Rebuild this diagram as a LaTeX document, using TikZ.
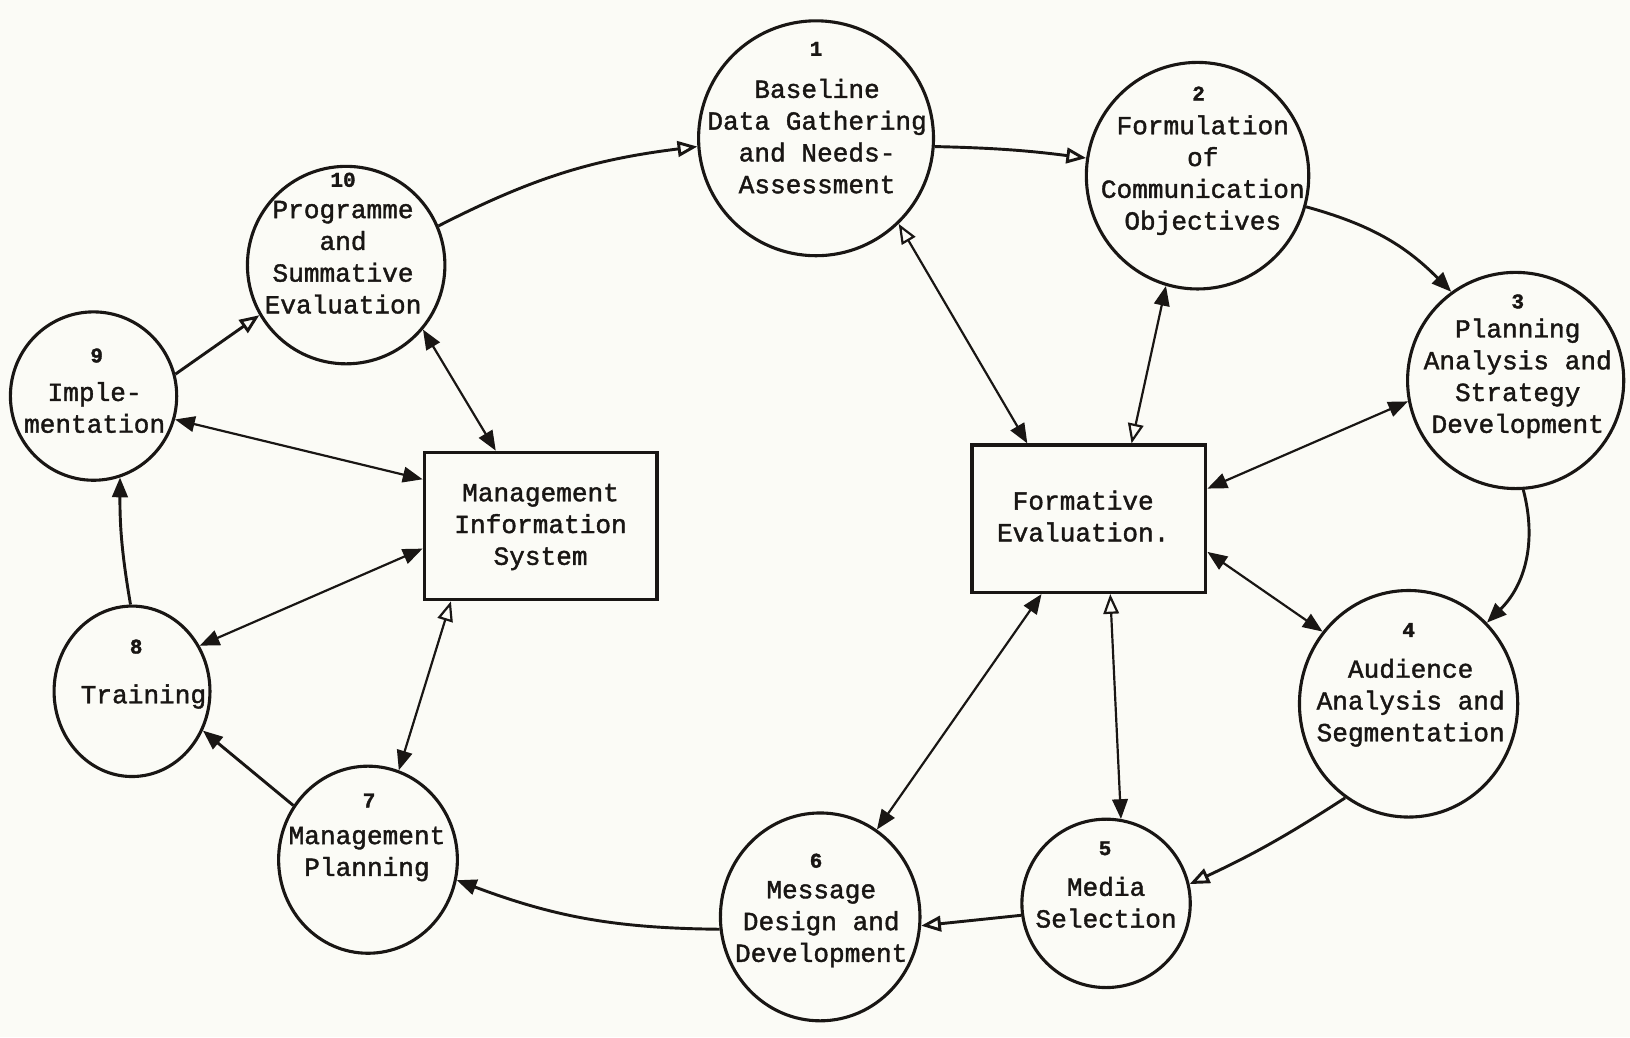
\documentclass[tikz,border=0pt]{standalone}
\usepackage{fontspec}
\setmainfont{Liberation Mono}[FakeBold=1.5]
\usetikzlibrary{shapes.geometric,arrows.meta,calc}
\definecolor{paper}{RGB}{251,251,246}
\definecolor{ink}{RGB}{25,22,20}
\begin{document}
\begin{tikzpicture}[x=0.02cm,y=-0.02cm,
  Fil/.tip={Triangle[length=0.38cm,width=0.30cm]},
  Opn/.tip={Triangle[open,length=0.38cm,width=0.30cm]},
  circ/.style={draw=ink, ellipse, line width=1.7pt, inner sep=0pt},
  box/.style={draw=ink, rectangle, line width=1.7pt, inner sep=0pt},
  txt/.style={align=center, inner sep=0pt, text=ink, font=\fontsize{14.3}{17.4}\selectfont},
  num/.style={inner sep=0pt, text=ink, font=\fontsize{11.5}{13}\selectfont\bfseries},
  flow/.style={draw=ink, line width=1.6pt},
  link/.style={draw=ink, line width=1.2pt}]
\fill[paper] (0,0) rectangle (1568,998);
\useasboundingbox (0,0) rectangle (1568,998);

% circles
\node[circ, minimum width=4.52cm, minimum height=4.52cm] (c1) at (785,133) {};
\node[circ, minimum width=4.28cm, minimum height=4.36cm] (c2) at (1152,169) {};
\node[circ, minimum width=4.16cm, minimum height=4.16cm] (c3) at (1458,366) {};
\node[circ, minimum width=4.20cm, minimum height=4.36cm] (c4) at (1355,677) {};
\node[circ, minimum width=3.24cm, minimum height=3.24cm] (c5) at (1064,869) {};
\node[circ, minimum width=3.84cm, minimum height=4.00cm] (c6) at (789,882) {};
\node[circ, minimum width=3.44cm, minimum height=3.60cm] (c7) at (354,827) {};
\node[circ, minimum width=3.00cm, minimum height=3.28cm] (c8) at (127,665) {};
\node[circ, minimum width=3.20cm, minimum height=3.24cm] (c9) at (90,381) {};
\node[circ, minimum width=3.80cm, minimum height=3.80cm] (c10) at (333,255) {};

% boxes
\node[box, minimum width=4.48cm, minimum height=2.84cm] (mis) at (520,506) {};
\node[box, minimum width=4.50cm, minimum height=2.84cm] (fe) at (1047.5,499) {};

% numbers
\node[num] (n1) at (785,47) {1};
\node[num] (n2) at (1153,90) {2};
\node[num] (n3) at (1460,290) {3};
\node[num] (n4) at (1355,606) {4};
\node[num] (n5) at (1063,816) {5};
\node[num] (n6) at (785,828) {6};
\node[num] (n7) at (355,770) {7};
\node[num] (n8) at (131,622) {8};
\node[num] (n9) at (93,342) {9};
\node[num] (n10) at (330,173) {10};

% texts
\node[txt] (t1) at (786,131) {Baseline\\Data Gathering\\and Needs-\\Assessment};
\node[txt] (t2) at (1157,168.5) {Formulation\\of\\Communication\\Objectives};
\node[txt] (t3) at (1460,364) {Planning\\Analysis and\\Strategy\\Development};
\node[txt] (t4) at (1357,676) {Audience\\Analysis and\\Segmentation};
\node[txt] (t5) at (1064,868) {Media\\Selection};
\node[txt] (t6) at (790,889) {Message\\Design and\\Development};
\node[txt] (t7) at (353,821.5) {Management\\Planning};
\node[txt] (t8) at (138,670) {Training};
\node[txt] (t9) at (91,392) {Imple-\\mentation};
\node[txt] (t10) at (330,247.5) {Programme\\and\\Summative\\Evaluation};
\node[txt] (tmis) at (520,507) {Management\\Information\\System};
\node[txt] (tfe) at (1042,496.5) {Formative\\Evaluation.};

% main cycle
\draw[flow,-Opn] (c10.23) to[bend left=10] (c1.184);
\draw[flow,-Opn] (c1.-4) to[bend left=3] (c2.171);
\draw[flow,-Fil] (c2.-16) to[bend left=15] (c3.126);
\draw[flow,-Fil] (c3.-86) to[bend left=30] (c4.46);
\draw[flow,-Opn] (c4.-124) to[bend left=4] (c5.13);
\draw[flow,-Opn] (c5.188) -- (c6.-5);
\draw[flow,-Fil] (c6.187) to[bend left=10] (c7.-13);
\draw[flow,-Fil] (c7.144) -- (c8.-29);
\draw[flow,-Fil] (c8.91) to[bend left=5] (c9.-72);
\draw[flow,-Opn] (c9.15) -- (c10.210);

% formative evaluation links
\draw[link,Opn-Fil] (c1.-46) -- ($(fe.north west)!0.24!(fe.north east)$);
\draw[link,Fil-Opn] (c2.-106) -- ($(fe.north west)!0.68!(fe.north east)$);
\draw[link,Fil-Fil] (c3.191) -- ($(fe.north east)!0.30!(fe.south east)$);
\draw[link,Fil-Fil] (c4.140) -- ($(fe.north east)!0.72!(fe.south east)$);
\draw[link,Fil-Opn] (c5.80) -- ($(fe.south west)!0.59!(fe.south east)$);
\draw[link,Fil-Fil] (c6.57) -- ($(fe.south west)!0.30!(fe.south east)$);

% management information system links
\draw[link,Fil-Fil] (c10.-40) -- ($(mis.north west)!0.31!(mis.north east)$);
\draw[link,Fil-Fil] (c9.-16) -- ($(mis.north west)!0.19!(mis.south west)$);
\draw[link,Fil-Fil] (c8.34) -- ($(mis.north west)!0.65!(mis.south west)$);
\draw[link,Fil-Opn] (c7.71) -- ($(mis.south west)!0.12!(mis.south east)$);
\end{tikzpicture}
\end{document}
